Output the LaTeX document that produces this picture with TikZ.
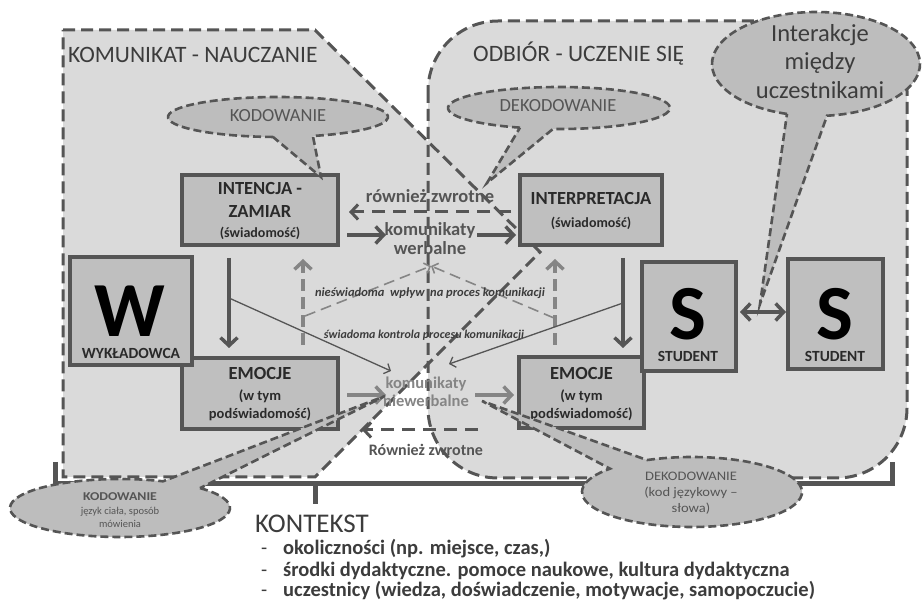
\documentclass[tikz,border=0pt]{standalone}
\usepackage{fontspec}
\setmainfont{Carlito}
\usetikzlibrary{arrows.meta,calc}
\definecolor{regfill}{HTML}{DADADA}
\definecolor{boxfill}{HTML}{BFBFBF}
\definecolor{callfill}{HTML}{BDBDBD}
\definecolor{dk}{HTML}{555555}
\definecolor{lt}{HTML}{858585}
\definecolor{tx}{HTML}{3C3C3C}
\definecolor{bx}{HTML}{2A2A2A}
\newcommand{\fs}[1]{\fontsize{#1}{1.2\dimexpr #1pt\relax}\selectfont}
\begin{document}
\begin{tikzpicture}[x=1pt,y=-1pt,
  region/.style={draw=dk, line width=3pt, dash pattern=on 12pt off 6pt},
  callout/.style={fill=callfill, draw=dk, line width=2.6pt, dash pattern=on 8pt off 4pt},
  box/.style={draw=dk, fill=boxfill, line width=3.5pt, inner sep=0pt},
  txt/.style={inner sep=0pt, anchor=base},
  boxhead/.style={txt, text=bx, font=\fs{18.5}\bfseries},
  boxsub/.style={txt, text=bx, font=\fs{14.5}\bfseries},
  bigletter/.style={txt, text=black, font=\fs{78}\bfseries},
  roletxt/.style={txt, text=bx, font=\fs{15.5}\bfseries},
  title/.style={inner sep=0pt, anchor=base west, text=tx, font=\fs{23.5}},
  bigarrow/.style={draw=dk, line width=3.5pt, -{Straight Barb[length=8pt,width=17pt]}},
  lightarrow/.style={draw=lt, line width=3.5pt, -{Straight Barb[length=8pt,width=17pt]}},
  backarrow/.style={draw=dk, line width=3pt, dash pattern=on 13pt off 8pt, -{Straight Barb[length=7pt,width=15pt]}},
  uparrow/.style={draw=lt, line width=3.5pt, dash pattern=on 12pt off 6pt, -{Straight Barb[length=8pt,width=17pt]}},
  thinarrow/.style={draw=dk, line width=1.3pt, -{Straight Barb[length=5pt,width=11pt]}},
  thindash/.style={draw=lt, line width=1.6pt, dash pattern=on 11pt off 6pt, -{Straight Barb[length=5pt,width=11pt]}},
  bracket/.style={draw=dk, line width=5pt}
]
\path[use as bounding box, fill=white] (0,0) rectangle (922,601);

% the two areas: teaching (left) and learning (right)
\fill[regfill] (63,30) -- (315,30) -- (540,252) -- (315,477) -- (63,477) -- cycle;
\fill[regfill, rounded corners=70pt] (428,21) rectangle (907,478);
\draw[region] (63,30) -- (315,30) -- (540,252) -- (315,477) -- (63,477) -- cycle;
\draw[region, rounded corners=70pt] (428,21) rectangle (907,478);

% context bracket
\draw[bracket] (55,462) -- (55,484) -- (892,484) -- (892,462);
\draw[bracket] (315,484) -- (315,504);

\node[title] (tK) at (68,63) {KOMUNIKAT - NAUCZANIE};
\node[title] (tO) at (473,62) {ODBIÓR - UCZENIE SIĘ};

% boxes
\node[box, minimum width=156pt, minimum height=70pt] (intencja) at (260,210) {};
\node[box, minimum width=142pt, minimum height=70pt] (interp) at (591,210) {};
\node[box, minimum width=156pt, minimum height=71pt] (emoL) at (260,393.5) {};
\node[box, minimum width=125pt, minimum height=71pt] (emoR) at (581.5,392.5) {};
\node[box, minimum width=122pt, minimum height=108pt] (wbox) at (131,311) {};
\node[box, minimum width=94pt, minimum height=109pt] (s1) at (689,316.5) {};
\node[box, minimum width=95pt, minimum height=110pt] (s2) at (835.5,314) {};

\node[boxhead] at (260,195) {INTENCJA -};
\node[boxhead] at (260,218) {ZAMIAR};
\node[boxsub, font=\fs{14}\bfseries] at (260,238) {(świadomość)};
\node[boxhead] at (591,205) {INTERPRETACJA};
\node[boxsub, font=\fs{14}\bfseries] at (591,228) {(świadomość)};
\node[boxhead] at (260,380) {EMOCJE};
\node[boxsub] at (260,401) {(w tym};
\node[boxsub] at (260,419) {podświadomość)};
\node[boxhead] at (581.5,380) {EMOCJE};
\node[boxsub] at (581.5,401) {(w tym};
\node[boxsub] at (581.5,419) {podświadomość)};

\node[bigletter] at (130,337) {W};
\node[roletxt] at (131,359) {WYKŁADOWCA};
\node[bigletter] at (688,340) {S};
\node[roletxt] at (688,362) {STUDENT};
\node[bigletter] at (835,340) {S};
\node[roletxt] at (835,362) {STUDENT};

% verbal messages
\node[txt, text=dk, font=\fs{18.5}\bfseries] (rzw) at (430,203) {również zwrotne};
\node[txt, text=dk, font=\fs{18.5}\bfseries] (kw1) at (430,236) {komunikaty};
\node[txt, text=dk, font=\fs{18.5}\bfseries] (kw2) at (430,255) {werbalne};
\coordinate (a1s) at (347,235); \coordinate (a1e) at (386,235);
\coordinate (a2s) at (477,235); \coordinate (a2e) at (516,235);
\draw[bigarrow] (a1s) -- (a1e);
\draw[bigarrow] (a2s) -- (a2e);
\coordinate (b1s) at (511,212); \coordinate (b1e) at (349,212);
\draw[backarrow] (b1s) -- (b1e);

% non-verbal messages
\node[txt, text=lt, font=\fs{16.5}\bfseries] (kn1) at (426,389) {komunikaty};
\node[txt, text=lt, font=\fs{16.5}\bfseries] (kn2) at (426,407) {niewerbalne};
\coordinate (n1s) at (347,395); \coordinate (n1e) at (386,395);
\coordinate (n2s) at (475,395); \coordinate (n2e) at (514,395);
\draw[lightarrow] (n1s) -- (n1e);
\draw[lightarrow] (n2s) -- (n2e);
\coordinate (b2s) at (478,430); \coordinate (b2e) at (362,430);
\draw[backarrow] (b2s) -- (b2e);
\node[txt, text=dk, font=\fs{16}\bfseries] (rzw2) at (426,456) {Również zwrotne};

% intention -> emotions, interpretation -> emotions
\coordinate (vL1) at (229,258); \coordinate (vL2) at (229,348);
\coordinate (vR1) at (623,258); \coordinate (vR2) at (623,348);
\draw[bigarrow] (vL1) -- (vL2);
\draw[bigarrow] (vR1) -- (vR2);

% emotions -> consciousness (dashed)
\coordinate (uL1) at (303,345); \coordinate (uL2) at (303,259);
\coordinate (uR1) at (555,345); \coordinate (uR2) at (555,259);
\draw[uparrow] (uL1) -- (uL2);
\draw[uparrow] (uR1) -- (uR2);

% unconscious influence
\coordinate (wv) at (431,266);
\coordinate (iL) at (305,316); \coordinate (iR) at (554,318);
\draw[thindash] (iL) -- (wv);
\draw[thindash] (iR) -- (wv);
\node[txt, text=tx, font=\fs{12.5}\bfseries\itshape] at (430,297) {nieświadoma~ wpływ~ na proces komunikacji};

% conscious control
\coordinate (cL) at (229,298); \coordinate (cLe) at (391,371);
\coordinate (cR) at (623,303); \coordinate (cRe) at (449,364);
\draw[thinarrow] (cL) -- (cLe);
\draw[thinarrow] (cR) -- (cRe);
\node[txt, text=tx, font=\fs{12}\bfseries\itshape] at (424,339) {świadoma kontrola procesu komunikacji};

% interaction between students
\coordinate (d1) at (740,312); \coordinate (d2) at (786,312);
\draw[bigarrow, {Straight Barb[length=8pt,width=17pt]}-{Straight Barb[length=8pt,width=17pt]}] (d1) -- (d2);

% callouts
\coordinate (kodC) at (278,117); \coordinate (kodT) at (321,177);
\draw[callout] ($(kodC)+({110*cos(92.6)},{20*sin(92.6)})$)
  arc[start angle=92.6, end angle=431.5, x radius=110, y radius=20] -- (kodT) -- cycle;
\node[txt, text=dk, font=\fs{18.5}] at (278,122) {KODOWANIE};

\coordinate (dekC) at (559,108); \coordinate (dekT) at (487,183);
\draw[callout] ($(dekC)+({111*cos(110.6)},{21*sin(110.6)})$)
  arc[start angle=110.6, end angle=453.1, x radius=111, y radius=21] -- (dekT) -- cycle;
\node[txt, text=dk, font=\fs{18.5}] at (558,112) {DEKODOWANIE};

\coordinate (intC) at (816,64); \coordinate (intT) at (760,304);
\draw[callout] ($(intC)+({104*cos(106.2)},{52*sin(106.2)})$)
  arc[start angle=106.2, end angle=443.9, x radius=104, y radius=52] -- (intT) -- cycle;
\node[txt, text=tx, font=\fs{24.5}] at (820,42) {Interakcje};
\node[txt, text=tx, font=\fs{24.5}] at (820,70) {między};
\node[txt, text=tx, font=\fs{24.5}] at (820,99) {uczestnikami};

\coordinate (kbC) at (120,508); \coordinate (kbT) at (385,396);
\draw[callout] ($(kbC)+({110*cos(-43.3)},{29*sin(-43.3)})$)
  arc[start angle=-43.3, end angle=293, x radius=110, y radius=29] -- (kbT) -- cycle;
\node[txt, text=dk, font=\fs{12}\bfseries] at (120,501) {\scalebox{1.15}[1]{KODOWANIE}};
\node[txt, text=dk, font=\fs{10.5}] at (120,515) {język ciała, sposób};
\node[txt, text=dk, font=\fs{10.5}] at (120,528) {mówienia};

\coordinate (dbC) at (692,492); \coordinate (dbT) at (482,401);
\draw[callout] ($(dbC)+({110*cos(245.9)},{35*sin(245.9)})$)
  arc[start angle=245.9, end angle=581.8, x radius=110, y radius=35] -- (dbT) -- cycle;
\node[txt, text=dk, font=\fs{13}] at (691,481) {\scalebox{1.12}[1]{DEKODOWANIE}};
\node[txt, text=dk, font=\fs{13}] at (691,497) {\scalebox{1.12}[1]{(kod językowy –}};
\node[txt, text=dk, font=\fs{13}] at (691,513) {\scalebox{1.12}[1]{słowa)}};

% context
\node[inner sep=0pt, anchor=base west, text=tx, font=\fs{27}] (ctx) at (255,533) {KONTEKST};
\foreach \y/\t in {555/{okoliczności (np. miejsce, czas,)},
                   576.5/{środki dydaktyczne. pomoce naukowe, kultura dydaktyczna},
                   597/{uczestnicy (wiedza, doświadczenie, motywacje, samopoczucie)}}{
  \node[inner sep=0pt, anchor=base west, text=tx, font=\fs{20}] at (261,\y) {-};
  \node[inner sep=0pt, anchor=base west, text=tx, font=\fs{20.5}\bfseries] at (283,\y) {\t};
}
\end{tikzpicture}
\end{document}
